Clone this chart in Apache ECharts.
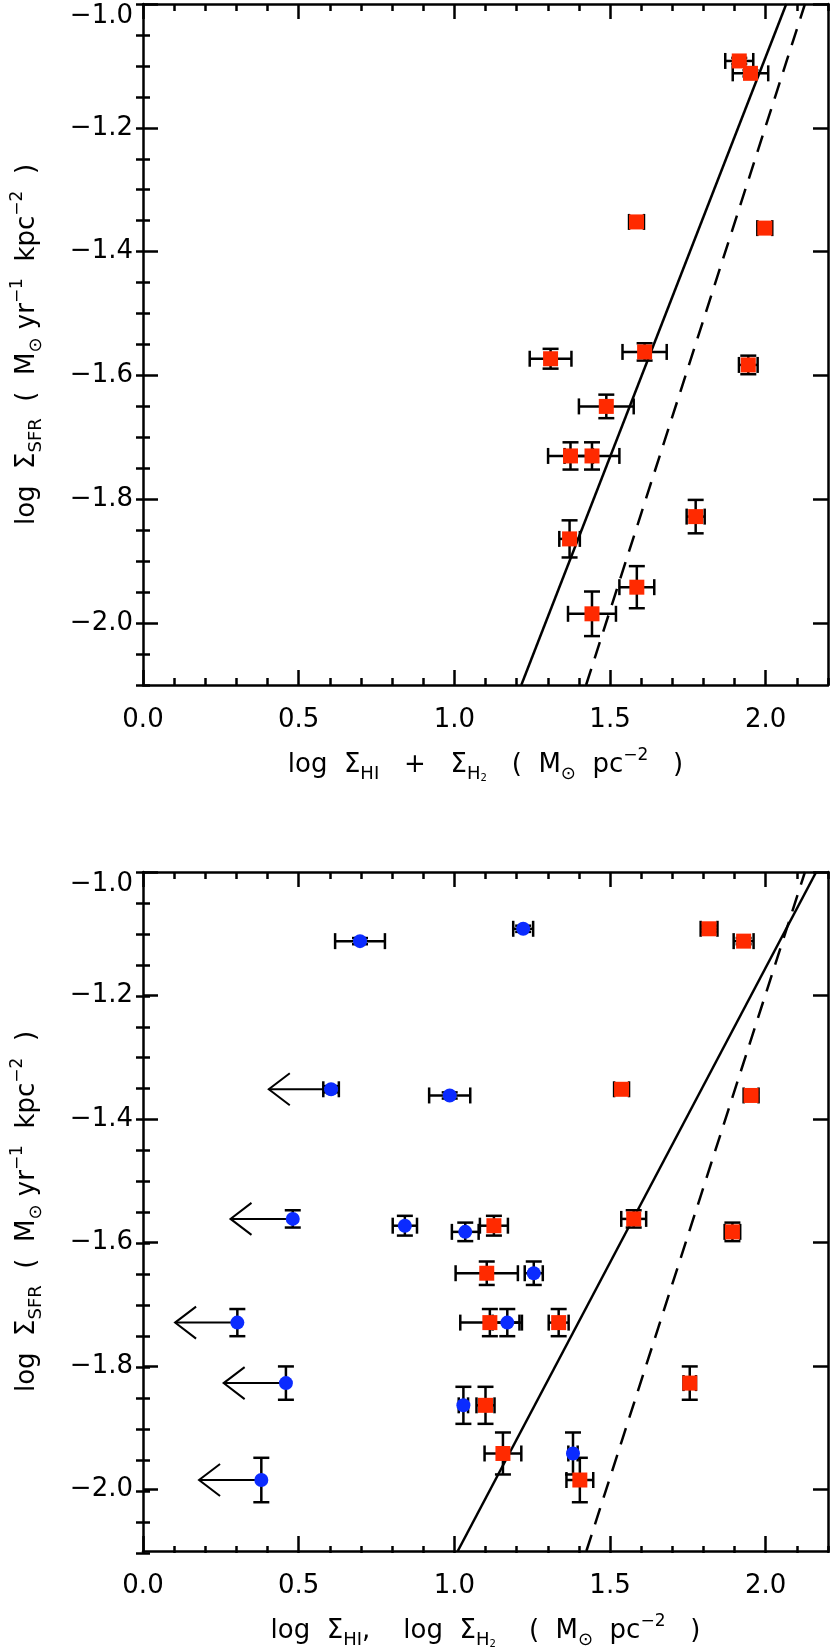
<!DOCTYPE html>
<html>
<head>
<meta charset="utf-8">
<script src="https://cdn.jsdelivr.net/npm/echarts@6.0.0/dist/echarts.min.js"></script>
<style>
html,body{margin:0;padding:0;background:#fff;}
#chart{width:830px;height:1650px;}
</style>
</head>
<body>
<div id="chart"></div>
<script>
// ---------------- tick labels ----------------
const xTickValues = [0.0, 0.5, 1.0, 1.5, 2.0];
const yTickValues = [-2.0, -1.8, -1.6, -1.4, -1.2, -1.0];

// ---------------- data (one entry per galaxy) ----------------
// log Sigma_SFR and its error (shared by both panels)
const sfr    = [-1.092, -1.112, -1.352, -1.362, -1.562, -1.573, -1.583, -1.650, -1.730, -1.730, -1.828, -1.864, -1.942, -1.985];
const sfrErr = [0.005, 0.005, 0.005, 0.005, 0.014, 0.016, 0.015, 0.019, 0.022, 0.022, 0.027, 0.030, 0.034, 0.036];

// top panel: log (Sigma_HI + Sigma_H2)
const gasTot    = [1.915, 1.951, 1.585, 1.997, 1.611, 1.309, 1.944, 1.488, 1.373, 1.442, 1.775, 1.370, 1.586, 1.442];
const gasTotErr = [0.045, 0.057, 0.024, 0.024, 0.071, 0.067, 0.030, 0.088, 0.072, 0.088, 0.029, 0.033, 0.056, 0.077];

// bottom panel: log Sigma_HI (blue) and log Sigma_H2 (red)
const hi      = [1.221, 0.697, 0.604, 0.985, 0.481, 0.841, 1.035, 1.255, 0.303, 1.170, 0.459, 1.029, 1.381, 0.380];
const hiErr   = [0.032, 0.080, 0.025, 0.066, 0.000, 0.039, 0.043, 0.029, 0.000, 0.047, 0.000, 0.015, 0.015, 0.000];
const hiLimit = [0, 0, 1, 0, 1, 0, 0, 0, 1, 0, 1, 0, 0, 1];
const h2      = [1.818, 1.929, 1.537, 1.953, 1.576, 1.127, 1.893, 1.104, 1.335, 1.114, 1.756, 1.100, 1.156, 1.403];
const h2Err   = [0.027, 0.032, 0.024, 0.024, 0.040, 0.045, 0.025, 0.100, 0.032, 0.095, 0.020, 0.029, 0.059, 0.043];

// relations (end points on the frame)
const solidTop  = [[1.215, -2.1], [2.066, -1.0]];
const dashedTop = [[1.423, -2.1], [2.126, -1.0]];
const solidBot  = [[1.011, -2.1], [2.162, -1.0]];
const dashedBot = [[1.424, -2.1], [2.126, -1.0]];

// ---------------- styling constants ----------------
const X_MIN = 0, X_MAX = 2.2, Y_MIN = -2.1, Y_MAX = -1.0;
const ARROW_LEN = 0.2;   // length of upper-limit arrows (dex)
const FONT = 'DejaVu Sans';
const RED = '#ff2a00', BLUE = '#0b2bff';
const LW = 2.5, CAP = 8;

const minorX = []; for (let i = 0; i <= 22; i++) minorX.push(+(i * 0.1).toFixed(2));
const minorY = []; for (let i = 0; i <= 22; i++) minorY.push(+(Y_MIN + i * 0.05).toFixed(3));

const richCommon = {
  n: { fontFamily: FONT, fontSize: 26, color: '#000', lineHeight: 36, verticalAlign: 'middle' },
  s: { fontFamily: FONT, fontSize: 18, color: '#000', lineHeight: 16, verticalAlign: 'bottom' },
  t: { fontFamily: FONT, fontSize: 10, color: '#000', lineHeight: 8, verticalAlign: 'bottom' },
  p: { fontFamily: FONT, fontSize: 17, color: '#000', lineHeight: 16, verticalAlign: 'top' }
};

const xTitleTop = '{n|log  Σ}{s|HI}{n|   +   Σ}{s|H}{t|2}{n|   (  M}{s|⊙}{n|  pc}{p|−2}{n|   )}';
const xTitleBot = '{n|log  Σ}{s|HI}{n|,    log  Σ}{s|H}{t|2}{n|    (  M}{s|⊙}{n|  pc}{p|−2}{n|   )}';
const yTitle    = '{n|log  Σ}{s|SFR}{n|  (  M}{s|⊙}{n| yr}{p|−1}{n|  kpc}{p|−2}{n|  )}';

const grids = [
  { left: 143, top: 4,   width: 685, height: 681 },
  { left: 143, top: 4,   width: 685, height: 681 },
  { left: 143, top: 872, width: 685, height: 681 },
  { left: 143, top: 872, width: 685, height: 681 }
];

function fmtX(v) { return v.toFixed(1); }
function fmtY(v) {
  const s = (v < 0 ? '\u2212' : '') + Math.abs(v).toFixed(1);
  return Math.abs(v - Y_MAX) < 1e-6 ? '{hi|' + s + '}' : s;
}

const labelStyle = { fontFamily: FONT, fontSize: 26, color: '#000' };
const lineSt = { color: '#000', width: LW };

function xAxesFor(p, title) {
  const g = 2 * p;
  return [
    { gridIndex: g, type: 'value', position: 'bottom', min: X_MIN, max: X_MAX,
      axisLine: { show: true, onZero: false, lineStyle: lineSt },
      axisTick: { show: true, inside: true, length: 15, customValues: xTickValues, lineStyle: lineSt },
      axisLabel: Object.assign({ show: true, customValues: xTickValues, formatter: fmtX, margin: 22 }, labelStyle),
      splitLine: { show: false },
      name: title, nameLocation: 'middle', nameGap: 62,
      nameTextStyle: { fontFamily: FONT, fontSize: 26, color: '#000', rich: richCommon } },
    { gridIndex: g, type: 'value', position: 'top', min: X_MIN, max: X_MAX,
      axisLine: { show: true, onZero: false, lineStyle: lineSt },
      axisTick: { show: true, inside: true, length: 15, customValues: xTickValues, lineStyle: lineSt },
      axisLabel: { show: false }, splitLine: { show: false } },
    { gridIndex: g + 1, type: 'value', position: 'bottom', min: X_MIN, max: X_MAX,
      axisLine: { show: false },
      axisTick: { show: true, inside: true, length: 7, customValues: minorX, lineStyle: lineSt },
      axisLabel: { show: false }, splitLine: { show: false } },
    { gridIndex: g + 1, type: 'value', position: 'top', min: X_MIN, max: X_MAX,
      axisLine: { show: false },
      axisTick: { show: true, inside: true, length: 7, customValues: minorX, lineStyle: lineSt },
      axisLabel: { show: false }, splitLine: { show: false } }
  ];
}

function yAxesFor(p) {
  const g = 2 * p;
  return [
    { gridIndex: g, type: 'value', position: 'left', min: Y_MIN, max: Y_MAX,
      axisLine: { show: true, onZero: false, lineStyle: lineSt },
      axisTick: { show: true, inside: true, length: 15, customValues: yTickValues, lineStyle: lineSt },
      axisLabel: Object.assign({ show: true, customValues: yTickValues, formatter: fmtY, margin: 10,
        rich: { hi: { fontFamily: FONT, fontSize: 26, color: '#000', padding: [24, 0, 0, 0] } } }, labelStyle),
      splitLine: { show: false },
      name: yTitle, nameLocation: 'middle', nameGap: 98, nameRotate: 90,
      nameTextStyle: { fontFamily: FONT, fontSize: 26, color: '#000', rich: richCommon } },
    { gridIndex: g, type: 'value', position: 'right', min: Y_MIN, max: Y_MAX,
      axisLine: { show: true, onZero: false, lineStyle: lineSt },
      axisTick: { show: true, inside: true, length: 15, customValues: yTickValues, lineStyle: lineSt },
      axisLabel: { show: false }, splitLine: { show: false } },
    { gridIndex: g + 1, type: 'value', position: 'left', min: Y_MIN, max: Y_MAX,
      axisLine: { show: false },
      axisTick: { show: true, inside: true, length: 7, customValues: minorY, lineStyle: lineSt },
      axisLabel: { show: false }, splitLine: { show: false } },
    { gridIndex: g + 1, type: 'value', position: 'right', min: Y_MIN, max: Y_MAX,
      axisLine: { show: false },
      axisTick: { show: true, inside: true, length: 7, customValues: minorY, lineStyle: lineSt },
      axisLabel: { show: false }, splitLine: { show: false } }
  ];
}

function errorBarItem(params, api) {
  const x = api.value(0), y = api.value(1), xe = api.value(2), ye = api.value(3);
  const st = { stroke: '#000', lineWidth: LW, fill: null };
  const kids = [];
  const seg = (a, b) => kids.push({ type: 'line', shape: { x1: a[0], y1: a[1], x2: b[0], y2: b[1] }, style: st });
  if (xe > 0) {
    const l = api.coord([x - xe, y]), r = api.coord([x + xe, y]);
    seg(l, r);
    seg([l[0], l[1] - CAP], [l[0], l[1] + CAP]);
    seg([r[0], r[1] - CAP], [r[0], r[1] + CAP]);
  }
  if (ye > 0) {
    const t = api.coord([x, y + ye]), b = api.coord([x, y - ye]);
    seg(t, b);
    seg([t[0] - CAP, t[1]], [t[0] + CAP, t[1]]);
    seg([b[0] - CAP, b[1]], [b[0] + CAP, b[1]]);
  }
  return { type: 'group', children: kids };
}

function arrowItem(params, api) {
  const x = api.value(0), y = api.value(1);
  const p = api.coord([x, y]);
  const tip = api.coord([x - ARROW_LEN, y]);
  const st = { stroke: '#000', lineWidth: 2, fill: null };
  return { type: 'group', children: [
    { type: 'line', shape: { x1: p[0], y1: p[1], x2: tip[0], y2: tip[1] }, style: st },
    { type: 'polyline', shape: { points: [[tip[0] + 21, tip[1] - 16], [tip[0], tip[1]], [tip[0] + 21, tip[1] + 16]] }, style: st }
  ] };
}

function errData(xs, xes) { return xs.map((v, i) => [v, sfr[i], xes[i], sfrErr[i]]); }
function ptData(xs) { return xs.map((v, i) => [v, sfr[i]]); }

function errSeries(xIdx, yIdx, data) {
  return { type: 'custom', xAxisIndex: xIdx, yAxisIndex: yIdx, data: data, renderItem: errorBarItem,
           encode: { x: 0, y: 1 }, z: 3, silent: true };
}
function scatter(xIdx, yIdx, data, symbol, size, color) {
  return { type: 'scatter', xAxisIndex: xIdx, yAxisIndex: yIdx, data: data, symbol: symbol, symbolSize: size,
           itemStyle: { color: color, opacity: 1 }, z: 5, silent: true };
}
function relLine(xIdx, yIdx, data, dashed) {
  return { type: 'line', xAxisIndex: xIdx, yAxisIndex: yIdx, data: data, showSymbol: false, symbol: 'none',
           lineStyle: { color: '#000', width: LW, type: dashed ? [17, 11] : 'solid' }, z: 2, silent: true };
}

const limitData = hi.map((v, i) => [v, sfr[i]]).filter((d, i) => hiLimit[i] === 1);

const option = {
  animation: false,
  backgroundColor: '#ffffff',
  grid: grids,
  xAxis: xAxesFor(0, xTitleTop).concat(xAxesFor(1, xTitleBot)),
  yAxis: yAxesFor(0).concat(yAxesFor(1)),
  series: [
    // top panel
    relLine(0, 0, solidTop, false),
    relLine(0, 0, dashedTop, true),
    errSeries(0, 0, errData(gasTot, gasTotErr)),
    scatter(0, 0, ptData(gasTot), 'rect', 15, RED),
    // bottom panel
    relLine(4, 4, solidBot, false),
    relLine(4, 4, dashedBot, true),
    { type: 'custom', xAxisIndex: 4, yAxisIndex: 4, data: limitData, renderItem: arrowItem,
      encode: { x: 0, y: 1 }, z: 3, silent: true },
    errSeries(4, 4, errData(hi, hiErr)),
    errSeries(4, 4, errData(h2, h2Err)),
    scatter(4, 4, ptData(hi), 'circle', 14, BLUE),
    scatter(4, 4, ptData(h2), 'rect', 15, RED)
  ]
};

const chart = echarts.init(document.getElementById('chart'), null, { renderer: 'canvas' });
chart.setOption(option);
</script>
</body>
</html>
